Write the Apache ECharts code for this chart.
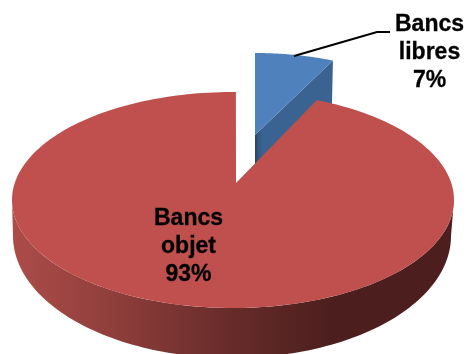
<!DOCTYPE html>
<html><head><meta charset="utf-8">
<style>html,body{margin:0;padding:0;background:#fff}#c{width:468px;height:354px}</style>
<script src="https://cdn.jsdelivr.net/npm/echarts@6/dist/echarts.min.js"></script>
</head><body><div id="c"></div>
<script>
const categories = ['Bancs\nlibres', 'Bancs\nobjet'];
const values = [7, 93];

const chart = echarts.init(document.getElementById('c'), null, {renderer:'canvas'});
const total = values.reduce((a,b)=>a+b,0);
const DEPTH = 45;
const FONT = 'bold 23px "Liberation Sans", Arial, sans-serif';
const geo = [
  {cx:255, cy:161, a:212, b:108, apex:[255,135], rot:0,   label:[429.5,53],  top:'#4F81BD'},
  {cx:233, cy:200, a:221, b:108, apex:[236,183], rot:0.75, label:[188.5,247], top:'#C0504D'}
];
const rad = d => d*Math.PI/180;
// Foreshortened angle: pie angle (deg clockwise from north) to ellipse parameter.
function rimAngle(t, rot){
  let r = Math.atan2(Math.sin(rad(t))*0.84, Math.cos(rad(t)));
  if (r < -1e-9 || (t > 180 && r <= 0)) r += 2*Math.PI;
  return r + rad(rot);
}
const pt = (g,phi) => [g.cx + g.a*Math.sin(phi), g.cy - g.b*Math.cos(phi)];

function renderItem(params, api){
  const i = params.dataIndex, g = geo[i], v = api.value(0);
  let before = 0; for (let k=0;k<i;k++) before += values[k];
  const t0 = before/total*360, t1 = (before+v)/total*360;
  const p0 = rimAngle(t0,g.rot), p1 = t1>=360 ? 2*Math.PI+rad(g.rot) : rimAngle(t1,g.rot);
  const rim = [];
  const n = 240;
  for (let s=0;s<=n;s++) rim.push(pt(g, p0+(p1-p0)*s/n));
  const children = [];
  if (i === 0){
    const e = rim[rim.length-1];
    // cut wall facing the viewer
    children.push({type:'polygon', shape:{points:[e,g.apex,[g.apex[0],g.apex[1]+DEPTH],[e[0]-1,e[1]+DEPTH]]},
      style:{fill:new echarts.graphic.LinearGradient(0,0,1,0,[
        {offset:0,color:'#24405F'},{offset:0.04,color:'#33587F'},{offset:0.1,color:'#3A6391'},{offset:1,color:'#3A6391'}])}});
  } else {
    // front wall between top rim and lower rim
    const low = {cx:232, cy:236, a:219, b:122};
    const tp = [], bt = [];
    for (let s=0;s<=120;s++){
      const phi = rad(90 + 180*s/120);
      tp.push(pt(g,phi));
      bt.push(pt(low,phi));
    }
    children.push({type:'polygon', shape:{points:tp.concat(bt.reverse())},
      style:{fill:new echarts.graphic.LinearGradient(0,0,1,0,[
        {offset:0,color:'#AD4C49'},{offset:0.2,color:'#93403D'},{offset:0.5,color:'#662B29'},
        {offset:0.72,color:'#4C1F1E'},{offset:1,color:'#4C1F1E'}])}});
  }
  children.push({type:'polygon', shape:{points:[g.apex].concat(rim)}, style:{fill:g.top}});
  if (i === 0){
    children.push({type:'polyline', shape:{points:[[294,56],[377,32],[390,32]]},
      style:{stroke:'#000',lineWidth:2,fill:null}});
  }
  children.push({type:'text', x:g.label[0], y:g.label[1], z2:10,
    style:{text:categories[i]+'\n'+v+'%', font:FONT, fill:'#000', stroke:'#000', lineWidth:0.3,
      align:'center', verticalAlign:'middle', lineHeight:28}});
  return {type:'group', children};
}

chart.setOption({
  backgroundColor:'#fff',
  animation:false,
  series:[{type:'custom', coordinateSystem:'none', renderItem, data:values.map(v=>[v]), clip:false}]
});
</script></body></html>
